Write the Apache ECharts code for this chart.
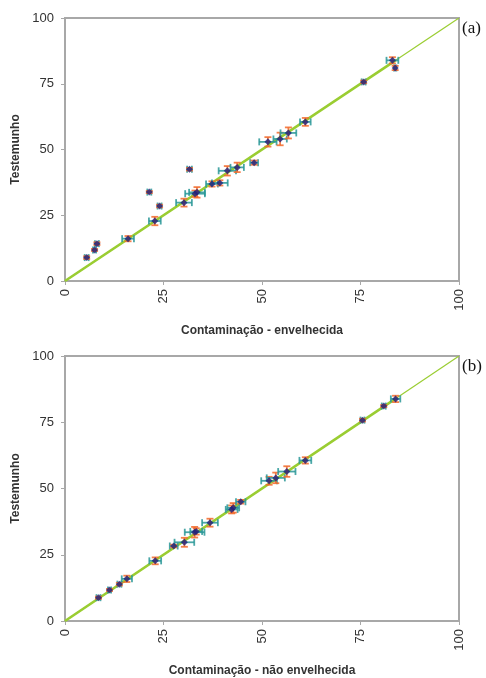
<!DOCTYPE html>
<html>
<head>
<meta charset="utf-8">
<script src="https://cdn.jsdelivr.net/npm/echarts@6/dist/echarts.min.js"></script>
<style>html,body{margin:0;padding:0;background:#fff}#c{width:486px;height:678px}</style>
</head>
<body>
<div id="c"></div>
<script>
// Panel (a): Contaminação - envelhecida vs Testemunho
var aX    = [5.5, 7.5, 8.1, 16.0, 21.4, 24.0, 22.8, 31.6, 30.2, 33.0, 33.5, 37.3, 39.3, 41.2, 43.7, 48.0, 51.5, 54.6, 56.7, 61.0, 75.8, 83.1, 83.8];
var aY    = [8.9, 11.8, 14.2, 16.1, 33.8, 28.5, 22.8, 42.5, 29.8, 33.2, 33.7, 36.9, 37.3, 41.9, 43.2, 45.0, 52.9, 54.0, 56.3, 60.5, 75.7, 83.9, 81.0];
var aXerr = [0.5, 0.4, 0.5, 1.5, 0.5, 0.5, 1.5, 0.6, 2.0, 2.5, 2.0, 1.5, 2.0, 2.2, 1.7, 1.0, 2.2, 1.7, 2.0, 1.35, 0.5, 1.5, 0.3];
var aYerr = [0.5, 0.4, 0.5, 1.0, 0.4, 0.5, 1.6, 0.5, 1.5, 1.2, 2.0, 1.0, 1.0, 1.8, 1.8, 0.8, 1.8, 2.4, 2.1, 1.5, 0.5, 1.2, 0.8];

// Panel (b): Contaminação - não envelhecida vs Testemunho
var bX    = [8.5, 11.3, 13.8, 15.7, 22.9, 27.6, 30.3, 32.9, 33.3, 36.8, 42.3, 42.7, 44.6, 51.8, 53.5, 56.3, 61.0, 75.5, 80.9, 83.9];
var bY    = [8.8, 11.7, 13.9, 15.9, 22.7, 28.3, 29.7, 33.5, 33.8, 37.1, 42.1, 42.7, 45.0, 52.9, 54.0, 56.4, 60.6, 75.8, 81.1, 83.8];
var bXerr = [0.5, 0.4, 0.5, 1.3, 1.5, 1.0, 2.5, 2.5, 1.5, 2.0, 1.5, 1.5, 1.2, 2.0, 2.3, 2.2, 1.5, 0.5, 0.5, 1.2];
var bYerr = [0.4, 0.4, 0.5, 1.2, 1.3, 0.5, 1.7, 2.0, 1.2, 1.5, 1.5, 1.8, 0.7, 1.5, 2.0, 2.0, 1.2, 0.5, 0.4, 1.2];

// Reference lines (1:1 line and fitted trend)
var diagX = [0, 100];
var diagY = [0, 100];
var trendX = [0, 84];
var trendY = [0, 84];

var tickMin = 0, tickMax = 100, tickStep = 25;
var xNames = ['Contaminação - envelhecida', 'Contaminação - não envelhecida'];
var yName = 'Testemunho';
var panelLabels = ['(a)', '(b)'];

var markerColor = '#20207a';
var hColor = '#2a9898';
var vColor = '#f26a2a';
var lineColor = '#9acd32';

function zip(xs, ys) { return xs.map(function (v, i) { return [v, ys[i]]; }); }

function errSeries(xs, ys, xe, ye, gi) {
  var data = xs.map(function (v, i) { return [v, ys[i], xe[i], ye[i]]; });
  return {
    type: 'custom', xAxisIndex: gi, yAxisIndex: gi, z: 3, silent: true,
    data: data,
    renderItem: function (params, api) {
      var x = api.value(0), y = api.value(1), ex = api.value(2), ey = api.value(3);
      var l = api.coord([x - ex, y]), r = api.coord([x + ex, y]);
      var t = api.coord([x, y + ey]), b = api.coord([x, y - ey]);
      var cap = 3.5;
      var hs = { stroke: hColor, lineWidth: 1.8, opacity: 0.85 };
      var vs = { stroke: vColor, lineWidth: 1.8, opacity: 0.85 };
      return {
        type: 'group',
        children: [
          { type: 'line', shape: { x1: l[0], y1: l[1], x2: r[0], y2: r[1] }, style: hs },
          { type: 'line', shape: { x1: l[0], y1: l[1] - cap, x2: l[0], y2: l[1] + cap }, style: hs },
          { type: 'line', shape: { x1: r[0], y1: r[1] - cap, x2: r[0], y2: r[1] + cap }, style: hs },
          { type: 'line', shape: { x1: t[0], y1: t[1], x2: b[0], y2: b[1] }, style: vs },
          { type: 'line', shape: { x1: t[0] - cap, y1: t[1], x2: t[0] + cap, y2: t[1] }, style: vs },
          { type: 'line', shape: { x1: b[0] - cap, y1: b[1], x2: b[0] + cap, y2: b[1] }, style: vs }
        ]
      };
    }
  };
}

function axisX(gi) {
  return {
    type: 'value', gridIndex: gi, min: tickMin, max: tickMax, interval: tickStep,
    name: xNames[gi], nameLocation: 'middle', nameGap: 44,
    nameTextStyle: { fontFamily: 'Liberation Sans', fontWeight: 'bold', fontSize: 12, color: '#333' },
    axisLine: { show: true, onZero: false, lineStyle: { color: '#a8a8a8', width: 2 } },
    axisTick: { show: true, length: 4, lineStyle: { color: '#a8a8a8', width: 1 } },
    axisLabel: { rotate: 90, fontFamily: 'Liberation Sans', fontSize: 13, color: '#333', margin: 8 },
    splitLine: { show: false }
  };
}
function axisY(gi) {
  return {
    type: 'value', gridIndex: gi, min: tickMin, max: tickMax, interval: tickStep,
    name: yName, nameLocation: 'middle', nameGap: 34,
    nameTextStyle: { fontFamily: 'Liberation Sans', fontWeight: 'bold', fontSize: 12, color: '#333' },
    axisLine: { show: true, onZero: false, lineStyle: { color: '#a8a8a8', width: 2 } },
    axisTick: { show: true, length: 4, lineStyle: { color: '#a8a8a8', width: 1 } },
    axisLabel: { fontFamily: 'Liberation Sans', fontSize: 13, color: '#333', margin: 11 },
    splitLine: { show: false }
  };
}

function lineSeries(xs, ys, gi, w) {
  return {
    type: 'line', xAxisIndex: gi, yAxisIndex: gi, data: zip(xs, ys), symbol: 'none',
    lineStyle: { color: lineColor, width: w }, z: 2, silent: true
  };
}
function pointSeries(xs, ys, gi) {
  return {
    type: 'scatter', xAxisIndex: gi, yAxisIndex: gi, data: zip(xs, ys),
    symbol: 'diamond', symbolSize: 7, itemStyle: { color: markerColor }, z: 4, silent: true
  };
}

var chart = echarts.init(document.getElementById('c'), null, { renderer: 'canvas' });
chart.setOption({
  animation: false,
  backgroundColor: '#fff',
  grid: [
    { left: 65, right: 27, top: 18, bottom: 397, show: true, borderColor: '#a8a8a8', borderWidth: 2, containLabel: false },
    { left: 65, right: 27, top: 356, bottom: 56, show: true, borderColor: '#a8a8a8', borderWidth: 2, containLabel: false }
  ],
  xAxis: [axisX(0), axisX(1)],
  yAxis: [axisY(0), axisY(1)],
  graphic: [
    { type: 'text', left: 462, top: 20, style: { text: panelLabels[0], font: '17px "Liberation Serif"', fill: '#111' } },
    { type: 'text', left: 462, top: 358, style: { text: panelLabels[1], font: '17px "Liberation Serif"', fill: '#111' } }
  ],
  series: [
    lineSeries(diagX, diagY, 0, 1.2),
    lineSeries(trendX, trendY, 0, 2.6),
    errSeries(aX, aY, aXerr, aYerr, 0),
    pointSeries(aX, aY, 0),
    lineSeries(diagX, diagY, 1, 1.2),
    lineSeries(trendX, trendY, 1, 2.6),
    errSeries(bX, bY, bXerr, bYerr, 1),
    pointSeries(bX, bY, 1)
  ]
});
</script>
</body>
</html>
